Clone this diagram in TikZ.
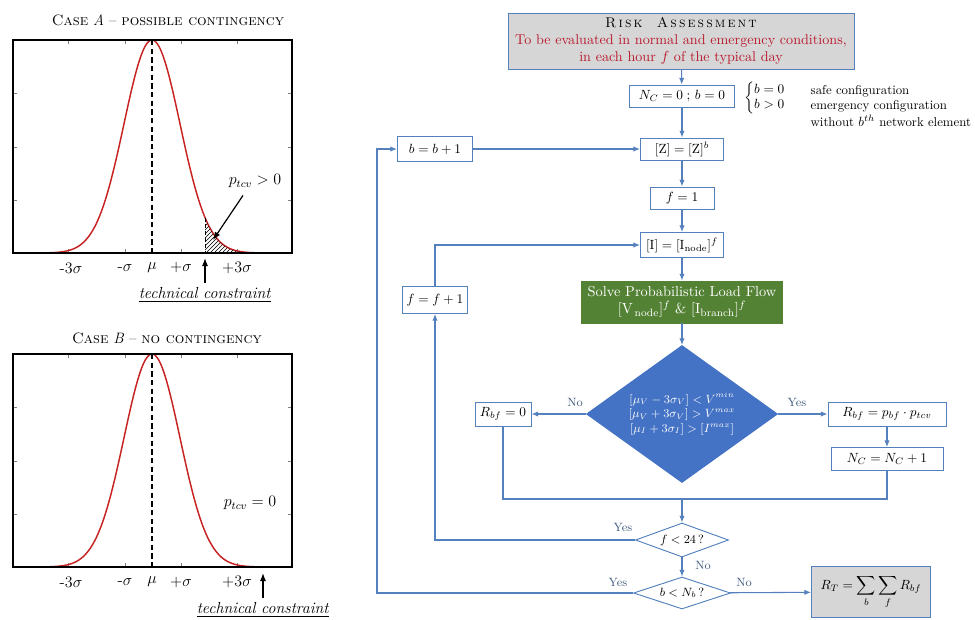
\documentclass[tikz,border=0pt]{standalone}
\usepackage{amsmath}
\usetikzlibrary{shapes.geometric,arrows.meta,patterns}

\definecolor{flowblue}{RGB}{84,129,189}
\definecolor{diablue}{RGB}{68,114,196}
\definecolor{plfgreen}{RGB}{84,130,53}
\definecolor{boxgray}{RGB}{214,214,214}
\definecolor{riskred}{RGB}{185,25,45}
\definecolor{labblue}{RGB}{62,88,125}
\definecolor{curvered}{RGB}{200,35,35}

\newcommand{\pxl}{0.75pt}
\newcommand{\gaussy}[1]{253-213*exp(-0.5*((#1-152)/28)^2)}
\newcommand{\sk}{\kern1.6pt}

\tikzset{
  box/.style 2 args={draw=flowblue,fill=white,line width=0.7pt,inner sep=0pt,
    align=center,font=\normalsize,minimum width=#1*\pxl,minimum height=#2*\pxl},
  choice/.style 2 args={draw=flowblue,fill=white,line width=0.7pt,shape=diamond,
    inner sep=0pt,font=\small,minimum width=#1*\pxl,minimum height=#2*\pxl},
  arr/.style={draw=flowblue,line width=0.8pt,-{Latex[length=5pt,width=4pt]}},
  link/.style={draw=flowblue,line width=0.8pt},
  ans/.style={text=labblue,font=\small},
  note/.style={font=\fontsize{9.6}{11}\selectfont,anchor=west},
  plotlab/.style={font=\large},
  plottitle/.style={font=\fontsize{11.3}{13.6}\selectfont},
  cstarrow/.style={line width=0.9pt,-{Latex[length=6pt,width=4.5pt]}}
}

\begin{document}
\begin{tikzpicture}[x=0.75pt,y=-0.75pt]
\useasboundingbox (0,0) rectangle (975,619);

%Gaussian plots

\foreach \dy/\cs in {0/A,314/B}{
\begin{scope}[shift={(0,\dy)}]
\foreach \tx in {68,125,181,237}{
  \draw[gray,line width=0.6pt] (\tx,253) -- (\tx,249);
  \draw[gray,line width=0.6pt] (\tx,40) -- (\tx,44);
}
\foreach \ty in {93,147,200}{
  \draw[gray,line width=0.6pt] (13,\ty) -- (17,\ty);
  \draw[gray,line width=0.6pt] (292,\ty) -- (288,\ty);
}
\draw[curvered,line width=1.1pt] plot[domain=13:292,samples=140,smooth] (\x,{\gaussy{\x}});
\draw[line width=1.1pt,dash pattern=on 4pt off 2.5pt] (152,40) -- (152,253);
\draw[line width=1.1pt] (13,40) rectangle (292,253);
\node[plotlab] (m3\cs) at (71,268) {-3$\sigma$};
\node[plotlab] (m1\cs) at (125,268) {-$\sigma$};
\node[plotlab] (mu\cs) at (152,268) {$\mu$};
\node[plotlab] (p1\cs) at (181,268) {+$\sigma$};
\node[plotlab] (p3\cs) at (237,268) {+3$\sigma$};
\end{scope}
}

%Case A

\node[plottitle] (titleA) at (168,20) {\textsc{Case} \textit{A} -- \textsc{possible contingency}};
\fill[pattern=north east lines] (205,253) -- plot[domain=205:292,samples=40,smooth] (\x,{\gaussy{\x}}) -- (292,253) -- cycle;
\draw[densely dashed,line width=0.6pt] (205,217.5) -- (205,253);
\node[plotlab] (ptcvA) at (255,181) {$p_{tcv} > 0$};
\coordinate (hatchA) at (213,240);
\draw[cstarrow] ([xshift=-12*\pxl,yshift=-3*\pxl]ptcvA.south) -- (hatchA);
\node[plotlab] (tcA) at (205,295) {\underline{\textit{technical constraint}}};
\coordinate (limA) at (205,258);
\draw[cstarrow] (tcA.north) -- (limA);

%Case B

\node[plottitle] (titleB) at (167,338) {\textsc{Case} \textit{B} -- \textsc{no contingency}};
\node[plotlab] (ptcvB) at (250,503) {$p_{tcv} = 0$};
\node[plotlab] (tcB) at (263,610) {\underline{\textit{technical constraint}}};
\coordinate (limB) at (263,573);
\draw[cstarrow] (tcB.north) -- (limB);

%Flowchart

\node[box={346}{56},fill=boxgray,font=\fontsize{10.6}{12.6}\selectfont] (risk) at (681,41)
  {\textsc{R\sk i\sk s\sk k\quad A\sk s\sk s\sk e\sk s\sk s\sk m\sk e\sk n\sk t}\\
   \textcolor{riskred}{To be evaluated in normal and emergency conditions,}\\
   \textcolor{riskred}{in each hour $f$ of the typical day}};
\node[box={105}{22}] (nc) at (682,96) {$N_C = 0\;;\, b = 0$};
\node (brace) at (765,98) {\renewcommand{\arraystretch}{0.95}$\left\{\begin{array}{@{}l@{}} b = 0\\ b > 0\end{array}\right.$};
\node[note] (safe) at (806,91) {safe configuration};
\node[note] (emerg) at (806,106) {emergency configuration};
\node[note] (without) at (806,121) {without $b^{th}$ network element};
\node[box={83}{22}] (zb) at (682,149) {$[\mathrm{Z}] = [\mathrm{Z}]^b$};
\node[box={75}{25}] (bb) at (435,149) {$b = b + 1$};
\node[box={64}{22}] (f1) at (682,198) {$f = 1$};
\node[box={83}{25}] (inode) at (682,245) {$[\mathrm{I}] = [\mathrm{I}_{\mathrm{node}}]^f$};
\node[box={201}{42},fill=plfgreen,draw=plfgreen,text=white,font=\fontsize{10.8}{13}\selectfont] (plf) at (682,302)
  {Solve Probabilistic Load Flow\\ $[\mathrm{V}_{\,\mathrm{node}}]^f$ \& $[\mathrm{I}_{\mathrm{branch}}]^f$};
\node[box={65}{27}] (ff) at (435,300) {$f = f + 1$};
\node[choice={191}{137},aspect=1.4,fill=diablue,draw=diablue,text=white,align=center] (risky) at (682,414)
  {$[\mu_V - 3\sigma_V] < V^{min}$\\ $[\mu_V + 3\sigma_V] > V^{max}$\\ $[\mu_I + 3\sigma_I] > [I^{max}]$};
\node[box={56}{24}] (rb0) at (503,414) {$R_{bf} = 0$};
\node[box={118}{24}] (rbp) at (887,414) {$R_{bf} = p_{bf}\cdot p_{tcv}$};
\node[box={112}{23}] (ncp) at (887,459) {$N_C = N_C + 1$};
\node[choice={93}{34},aspect=2.7] (f24) at (682,540) {$f < 24$\,?};
\node[choice={97}{32},aspect=3] (bnb) at (682,593) {$b < N_b$\,?};
\node[box={119}{51},fill=boxgray] (rt) at (871,592) {$R_T = \displaystyle\sum_b\sum_f R_{bf}$};

\draw[arr] (risk) -- (nc);
\draw[arr] (nc) -- (zb);
\draw[arr] (zb) -- (f1);
\draw[arr] (f1) -- (inode);
\draw[arr] (inode) -- (plf);
\draw[arr] (plf) -- (risky);
\draw[arr] (bb) -- (zb);
\draw[arr] (risky) -- (rb0);
\draw[arr] (risky) -- (rbp);
\draw[arr] (rbp) -- (ncp);
\coordinate (merge) at (682,499);
\draw[link] (rb0.south) |- (merge) -| (ncp.south);
\draw[arr] (merge) -- (f24);
\draw[arr] (f24.west) -| (ff.south);
\draw[arr] (ff.north) |- (inode.west);
\draw[arr] (f24) -- (bnb);
\coordinate (bcorner) at (377,593);
\draw[arr] (bnb.west) -- (bcorner) |- (bb.west);
\draw[arr] (bnb) -- (rt);

\node[ans] (noA) at (575,402) {No};
\node[ans] (yesA) at (797,402) {Yes};
\node[ans] (yesB) at (623,527) {Yes};
\node[ans] (noB) at (703,565) {No};
\node[ans] (yesC) at (618,582) {Yes};
\node[ans] (noC) at (744,582) {No};

\end{tikzpicture}
\end{document}
